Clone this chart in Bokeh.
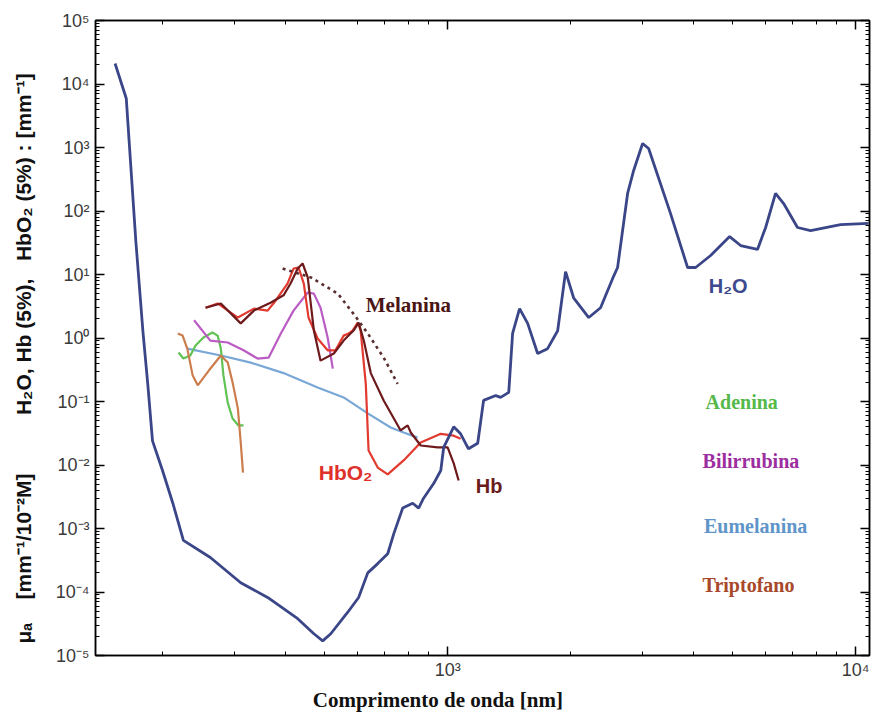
from bokeh.plotting import figure
from bokeh.models import LogAxis, FixedTicker, CustomJSTickFormatter, Range1d
from bokeh.core.properties import value
from bokeh.embed import file_html
from bokeh.resources import INLINE

# ---------------- data (wavelength in nm, mu_a in mm^-1) ----------------
h2o_wl = [153, 163, 172, 179, 184, 189, 200, 212, 225, 262, 311, 362, 429, 470, 494, 517,
          569, 605, 637, 674, 713, 738, 776, 821, 849, 873, 924, 962, 978, 1035, 1076, 1125,
          1185, 1225, 1312, 1349, 1412, 1443, 1501, 1571, 1662, 1758, 1861, 1946, 2036, 2218,
          2371, 2537, 2610, 2762, 2858, 3006, 3110, 3520, 3875, 4055, 4413, 4913, 5228, 5750,
          6020, 6366, 6665, 7206, 7760, 9190, 10760]
h2o_mu = [21000, 5900, 34, 1.3, 0.19, 0.024, 0.0082, 0.0025, 6.5e-4, 3.5e-4, 1.4e-4, 8.2e-5,
          3.8e-5, 2.2e-5, 1.7e-5, 2.2e-5, 4.8e-5, 8.2e-5, 2.0e-4, 2.8e-4, 4.0e-4, 8.3e-4,
          2.1e-3, 2.5e-3, 2.1e-3, 3.0e-3, 5.1e-3, 8.2e-3, 0.019, 0.040, 0.031, 0.018, 0.022,
          0.104, 0.124, 0.116, 0.139, 1.18, 2.9, 1.7, 0.57, 0.68, 1.3, 11.1, 4.3, 2.1, 3.0,
          8.6, 12.9, 189, 435, 1156, 964, 91, 12.9, 12.9, 19.9, 39.6, 28.6, 24.8, 55, 189,
          131, 55, 49, 61, 64]

hb_wl = [255, 278, 311, 335, 368, 396, 412, 429, 441, 454, 470, 488, 526, 556, 588, 605,
         623, 648, 697, 767, 798, 812, 859, 945, 1000, 1035, 1064]
hb_mu = [3.0, 3.5, 1.7, 2.7, 3.6, 4.7, 7.2, 12.4, 14.9, 9.0, 1.31, 0.44, 0.57, 0.91, 1.31,
         1.75, 0.91, 0.28, 0.104, 0.035, 0.042, 0.0325, 0.0203, 0.0189, 0.0189, 0.0106, 0.0057]

hbo2_wl = [255, 273, 306, 335, 362, 379, 405, 419, 431, 444, 456, 480, 508, 531, 556, 572,
           585, 602, 612, 630, 640, 674, 713, 780, 859, 962, 1035, 1076]
hbo2_mu = [3.0, 3.5, 2.1, 2.9, 2.7, 3.9, 7.2, 12.4, 12.9, 7.2, 2.1, 0.98, 0.64, 0.64, 1.09,
           1.18, 1.31, 1.75, 1.31, 0.19, 0.0169, 0.0091, 0.0071, 0.0118, 0.0226, 0.031,
           0.029, 0.026]

melanina_wl = [394, 462, 538, 588, 637, 697, 754]
melanina_mu = [12.4, 9.0, 5.0, 2.4, 1.18, 0.49, 0.19]

bili_wl = [239, 262, 289, 316, 342, 364, 390, 419, 454, 470, 488, 508, 523]
bili_mu = [1.9, 0.91, 0.85, 0.64, 0.475, 0.49, 1.18, 2.7, 5.2, 5.0, 3.0, 1.02, 0.33]

eumel_wl = [230, 278, 329, 396, 480, 556, 637, 725, 780, 844]
eumel_mu = [0.68, 0.53, 0.41, 0.28, 0.166, 0.116, 0.065, 0.039, 0.0325, 0.027]

aden_wl = [219, 225, 234, 241, 252, 265, 273, 278, 282, 289, 297, 307, 316]
aden_mu = [0.59, 0.475, 0.53, 0.76, 1.02, 1.22, 1.09, 0.68, 0.26, 0.096, 0.054, 0.042, 0.042]

trip_wl = [218, 224, 230, 237, 244, 260, 278, 289, 297, 306, 311, 315]
trip_mu = [1.18, 1.09, 0.68, 0.26, 0.18, 0.31, 0.53, 0.41, 0.20, 0.078, 0.0226, 0.0076]

y_major = [10.0 ** e for e in range(-5, 6)]
y_minor = [k * 10.0 ** e for e in range(-5, 5) for k in range(2, 10)]
x_major = [1e3, 1e4]
x_minor = [k * 10.0 ** e for e in (2, 3) for k in range(2, 10)]

# ---------------- figure ----------------
p = figure(frame_width=774, frame_height=635, x_axis_type="log", y_axis_type="log",
           x_range=Range1d(137, 10820), y_range=Range1d(1e-5, 1e5),
           output_backend="svg", toolbar_location=None,
           min_border_left=95, min_border_right=12, min_border_top=20, min_border_bottom=10)
p.xgrid.visible = False
p.ygrid.visible = False
p.outline_line_color = "black"
p.outline_line_width = 1.5
p.background_fill_color = "white"
p.border_fill_color = "white"

fmt = CustomJSTickFormatter(code="""
const sup = {'-':'\u207b','0':'\u2070','1':'\u00b9','2':'\u00b2','3':'\u00b3','4':'\u2074',
             '5':'\u2075','6':'\u2076','7':'\u2077','8':'\u2078','9':'\u2079'};
const e = Math.round(Math.log10(tick));
return '10' + String(e).split('').map(c => sup[c]).join('');
""")
blank = CustomJSTickFormatter(code="return '';")

def style(ax, labels=True):
    ax.axis_line_color = "black"
    ax.axis_line_width = 1.5
    ax.major_tick_in = 9
    ax.major_tick_out = 0
    ax.minor_tick_in = 4
    ax.minor_tick_out = 0
    ax.major_tick_line_color = "black"
    ax.minor_tick_line_color = "black"
    ax.major_tick_line_width = 1.5
    ax.major_label_text_font = "Liberation Sans"
    ax.major_label_text_font_size = "18px"
    ax.major_label_text_color = "#3a3a3a"
    if not labels:
        ax.formatter = blank
        ax.major_label_text_font_size = "1px"
        ax.major_label_standoff = 0

nb = "\u00a0"
xa = p.xaxis[0]
xa.ticker = FixedTicker(ticks=x_major, minor_ticks=x_minor)
xa.formatter = fmt
style(xa)
xa.major_label_standoff = 4
xa.axis_label = "Comprimento de onda [nm]" + nb * 17
xa.axis_label_text_font = "Liberation Serif"
xa.axis_label_text_font_style = "bold"
xa.axis_label_text_font_size = "21px"
xa.axis_label_text_color = "#111111"
xa.axis_label_standoff = 5

ya = p.yaxis[0]
ya.ticker = FixedTicker(ticks=y_major, minor_ticks=y_minor)
ya.formatter = fmt
style(ya)
ya.major_label_standoff = 6
ya.axis_label = ("\u03bc\u2090" + nb * 4 + "[mm\u207b\u00b9/10\u207b\u00b2M]" + nb * 10 +
                 "H\u2082O, Hb (5%)," + nb * 3 + "HbO\u2082 (5%) : [mm\u207b\u00b9]" + nb * 7)
ya.axis_label_text_font = "Liberation Sans"
ya.axis_label_text_font_style = "bold"
ya.axis_label_text_font_size = "21px"
ya.axis_label_text_color = "#111111"
ya.axis_label_standoff = 18

top = LogAxis(ticker=FixedTicker(ticks=x_major, minor_ticks=x_minor))
style(top, labels=False)
p.add_layout(top, "above")
right = LogAxis(ticker=FixedTicker(ticks=y_major, minor_ticks=y_minor))
style(right, labels=False)
p.add_layout(right, "right")

# ---------------- curves ----------------
p.line(eumel_wl, eumel_mu, line_color="#79a7d6", line_width=2.2)
p.line(aden_wl, aden_mu, line_color="#62c255", line_width=2.2)
p.line(trip_wl, trip_mu, line_color="#cc7d4d", line_width=2.2)
p.line(bili_wl, bili_mu, line_color="#bb5cc4", line_width=2.2)
p.line(hbo2_wl, hbo2_mu, line_color="#e23a2f", line_width=2.2)
p.line(hb_wl, hb_mu, line_color="#6e1a1c", line_width=2.2)
p.line(melanina_wl, melanina_mu, line_color="#5a2e2e", line_width=2.6, line_dash="3 4")
p.line(h2o_wl, h2o_mu, line_color="#3a4688", line_width=2.8)

# ---------------- labels ----------------
serif = value("Liberation Serif")
sans = value("Liberation Sans")
def lab(x, y, t, color, font, size, style="bold"):
    p.text(x=[x], y=[y], text=[t], text_color=color, text_font=font,
           text_font_size=size, text_font_style=style,
           text_align="left", text_baseline="middle")

lab(630, 3.25, "Melanina", "#4b1515", serif, "21px")
lab(4365, 6.5, "H\u2082O", "#3e4a8e", sans, "20px")
lab(483, 0.0076, "HbO\u2082", "#e0302a", sans, "21px")
lab(1172, 0.0046, "Hb", "#6a1c1c", sans, "20px")
lab(4290, 0.1, "Adenina", "#55b94a", serif, "20px")
lab(4217, 0.0114, "Bilirrubina", "#9c2ea0", serif, "20px")
lab(4250, 0.00111, "Eumelanina", "#5f95c8", serif, "20px")
lab(4217, 1.27e-4, "Triptofano", "#a8482a", serif, "20px")

open("out.html", "w").write(file_html(p, INLINE))
